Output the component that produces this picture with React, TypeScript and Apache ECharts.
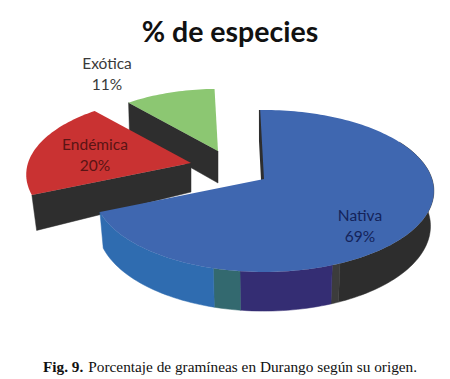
import React, { useEffect, useRef } from "react";
import * as echarts from "echarts";

const categories = ["Nativa", "Endémica", "Exótica"];
const percentages = [69, 20, 11];
const titleText = "% de especies";
const captionBold = "Fig. 9.";
const captionText = "Porcentaje de gramíneas en Durango según su origen.";

const START_ANGLE = -1.5;
const A = 168, B = 79.2, K = 0.148;

const topColors = ["#3f67b0", "#c93232", "#8cc772"];
const labelColors = ["#14235a", "#5a1414", "#3a3a3a"];
const DARK = "#2e2e2e";

// per-slice projection: apex, scale, bottom-rim shrink, depth and depth slope
const apexX = [264, 191, 218];
const apexY = [179, 163, 151];
const scales = [1, 0.97, 0.9];
const shrink = [0.98, 0.97, 0.99];
const depth = [34.5, 29, 32];
const slope = [1.05, 1.2, 1.04];
const labelX = [360, 95, 107];
const labelY = [225, 154, 73];

// shading of the Nativa outer wall, clockwise degrees from the top
const wallFrom = [60, 157, 159.5, 187, 195];
const wallTo = [157, 159.5, 187, 195, 247];
const wallColors = ["#2d2d2d", "#3c3c3c", "#342d73", "#33696f", "#2f6cb0"];

const project = (i: number, deg: number, r = 1) => {
  const t = (deg * Math.PI) / 180;
  const u = Math.sin(t) * r, v = -Math.cos(t) * r;
  const d = 1 - K * v;
  return [(A * u * scales[i]) / d, (B * v * scales[i]) / d];
};
const topPt = (i: number, deg: number) => {
  const [x, y] = project(i, deg);
  return [apexX[i] + x, apexY[i] + y];
};
const botPt = (i: number, deg: number) => {
  const [x, y] = project(i, deg);
  return [apexX[i] + x * shrink[i], apexY[i] + y * slope[i] + depth[i]];
};
const arc = (from: number, to: number, f: (d: number) => number[]) => {
  const out: number[][] = [];
  for (let d = from; d < to; d += 1.5) out.push(f(d));
  out.push(f(to));
  return out;
};

const renderItem = (params: any, api: any) => {
  const i = params.dataIndex;
  const total = percentages.reduce((s, x) => s + x, 0);
  const before = percentages.slice(0, i).reduce((s, x) => s + x, 0);
  const a0 = START_ANGLE + (before / total) * 360;
  const a1 = a0 + (Number(api.value(0)) / total) * 360;
  const base = (3 - i) * 10;
  const children: any[] = [];
  const ax = apexX[i], ay = apexY[i];
  // flat cut face at the slice's start edge
  const s = topPt(i, a0), sb = botPt(i, a0);
  children.push({
    type: "polygon", z2: base,
    shape: { points: [[ax, ay], s, sb, [ax, ay + depth[i]]] },
    style: { fill: DARK, stroke: DARK, lineWidth: i === 0 ? 2.5 : 0.5 },
  });
  if (i === 0) {
    wallFrom.forEach((from, w) => {
      const to = Math.min(wallTo[w], a1);
      children.push({
        type: "polygon", z2: base + 1 + w,
        shape: { points: [...arc(from, to, (d) => topPt(i, d)), ...arc(from, to, (d) => botPt(i, d)).reverse()] },
        style: { fill: wallColors[w], stroke: wallColors[w], lineWidth: 0.5 },
      });
    });
  }
  children.push({
    type: "polygon", z2: base + 7,
    shape: { points: [[ax, ay], ...arc(a0, a1, (d) => topPt(i, d))] },
    style: { fill: topColors[i] },
  });
  children.push({
    type: "text", z2: 100,
    style: {
      text: `${categories[i]}\n${api.value(0)}%`,
      x: labelX[i], y: labelY[i], align: "center", verticalAlign: "middle",
      fill: labelColors[i], font: "15.5px Lato", lineHeight: 21,
    },
  });
  return { type: "group", children };
};

export default function App() {
  const ref = useRef<HTMLDivElement>(null);
  useEffect(() => {
    const chart = echarts.init(ref.current!, undefined, { renderer: "svg" });
    chart.setOption({
      animation: false,
      backgroundColor: "#ffffff",
      title: [
        {
          text: titleText, left: 225, top: 11, textAlign: "center",
          textStyle: { fontFamily: "Lato", fontWeight: "bold", fontSize: 28.5, color: "#111" },
        },
        {
          text: `{b|${captionBold}} {n|${captionText}}`, left: 225, top: 352, textAlign: "center",
          textStyle: {
            fontWeight: "normal",
            rich: {
              b: { fontFamily: "Liberation Serif", fontWeight: "bold", fontSize: 15.3, color: "#111" },
              n: { fontFamily: "Liberation Serif", fontWeight: "normal", fontSize: 15.3, color: "#111" },
            },
          },
        },
      ],
      series: [
        {
          type: "custom", coordinateSystem: "none", renderItem, silent: true,
          data: percentages.map((v, i) => ({ name: categories[i], value: [v] })),
        },
      ],
    });
    return () => chart.dispose();
  }, []);
  return <div ref={ref} style={{ position: "fixed", left: 0, top: 0, width: 450, height: 379 }} />;
}
